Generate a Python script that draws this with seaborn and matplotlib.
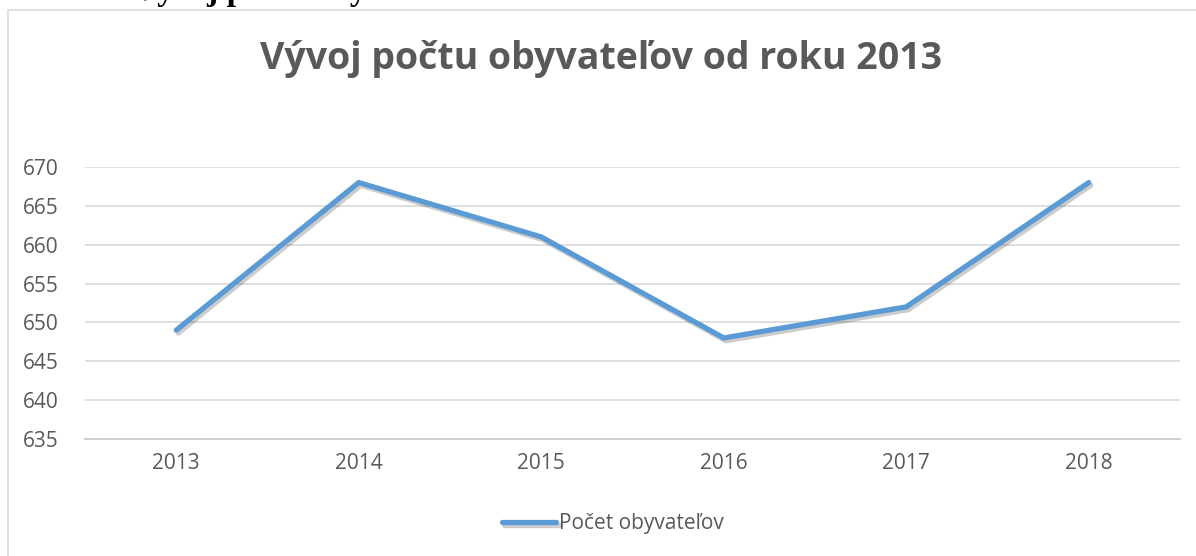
import matplotlib
matplotlib.use('Agg')

import pandas as pd
import matplotlib.pyplot as plt
import matplotlib.patheffects as pe
from matplotlib.patches import Rectangle
import seaborn as sns

years = ['2013', '2014', '2015', '2016', '2017', '2018']
population = [649, 668, 661, 648, 652, 668]
series_name = 'Počet obyvateľov'
title = 'Vývoj počtu obyvateľov od roku 2013'
heading = 'Vývoj počtu obyvateľov'
yticks = [635, 640, 645, 650, 655, 660, 665, 670]

df = pd.DataFrame({'rok': years, series_name: population})

sns.set_style('white')
plt.rcParams['font.family'] = ['Open Sans', 'DejaVu Sans']

W, H = 1196, 556
fig = plt.figure(figsize=(W / 100, H / 100), dpi=100)

# chart frame (only top and left edges visible)
fig.patches.append(Rectangle((8 / W, -0.2), 1.2, 1.2 - 10 / H, transform=fig.transFigure,
                             fill=False, edgecolor='#d9d9d9', linewidth=1.2))

# cut heading of the document above the chart
fig.text(133 / W, 1 + 0 / H, heading, family='Liberation Serif', weight='bold',
         fontsize=24, color='black', va='baseline', ha='left')

ax = fig.add_axes([85 / W, (H - 439) / H, (1180 - 85) / W, (439 - 167) / H])
gray = '#595959'
line_color = '#5b9bd5'

sns.lineplot(data=df, x='rok', y=series_name, ax=ax, color=line_color, linewidth=3.8,
             label=series_name, sort=False,
             path_effects=[pe.SimpleLineShadow(offset=(1.5, -2), alpha=0.2, shadow_color='black'),
                           pe.Normal()])
for ln in ax.get_lines():
    ln.set_solid_capstyle('round')
    ln.set_solid_joinstyle('miter')

ax.set_xlim(-0.5, len(years) - 0.5)
ax.set_ylim(635, 670)
ax.set_yticks(yticks)
ax.yaxis.grid(True, color='#d9d9d9', linewidth=1.2)
ax.set_axisbelow(True)
for s in ['top', 'right', 'left']:
    ax.spines[s].set_visible(False)
ax.spines['bottom'].set_color('#d0d0d0')
ax.spines['bottom'].set_linewidth(1.4)
ax.tick_params(axis='both', length=0, labelsize=15, labelcolor=gray)
ax.tick_params(axis='y', pad=19)
ax.tick_params(axis='x', pad=10)
ax.set_xlabel('')
ax.set_ylabel('')

fig.text(601 / W, 1 - 59 / H, title, ha='center', va='center', fontsize=27,
         fontweight='bold', color=gray)

leg = ax.legend(loc='center', bbox_to_anchor=(0.482, (439 - 524) / (439 - 167)), frameon=False,
                fontsize=15, handlelength=2.6, handletextpad=0.1, labelcolor=gray)

fig.savefig('out.png', dpi=100)
